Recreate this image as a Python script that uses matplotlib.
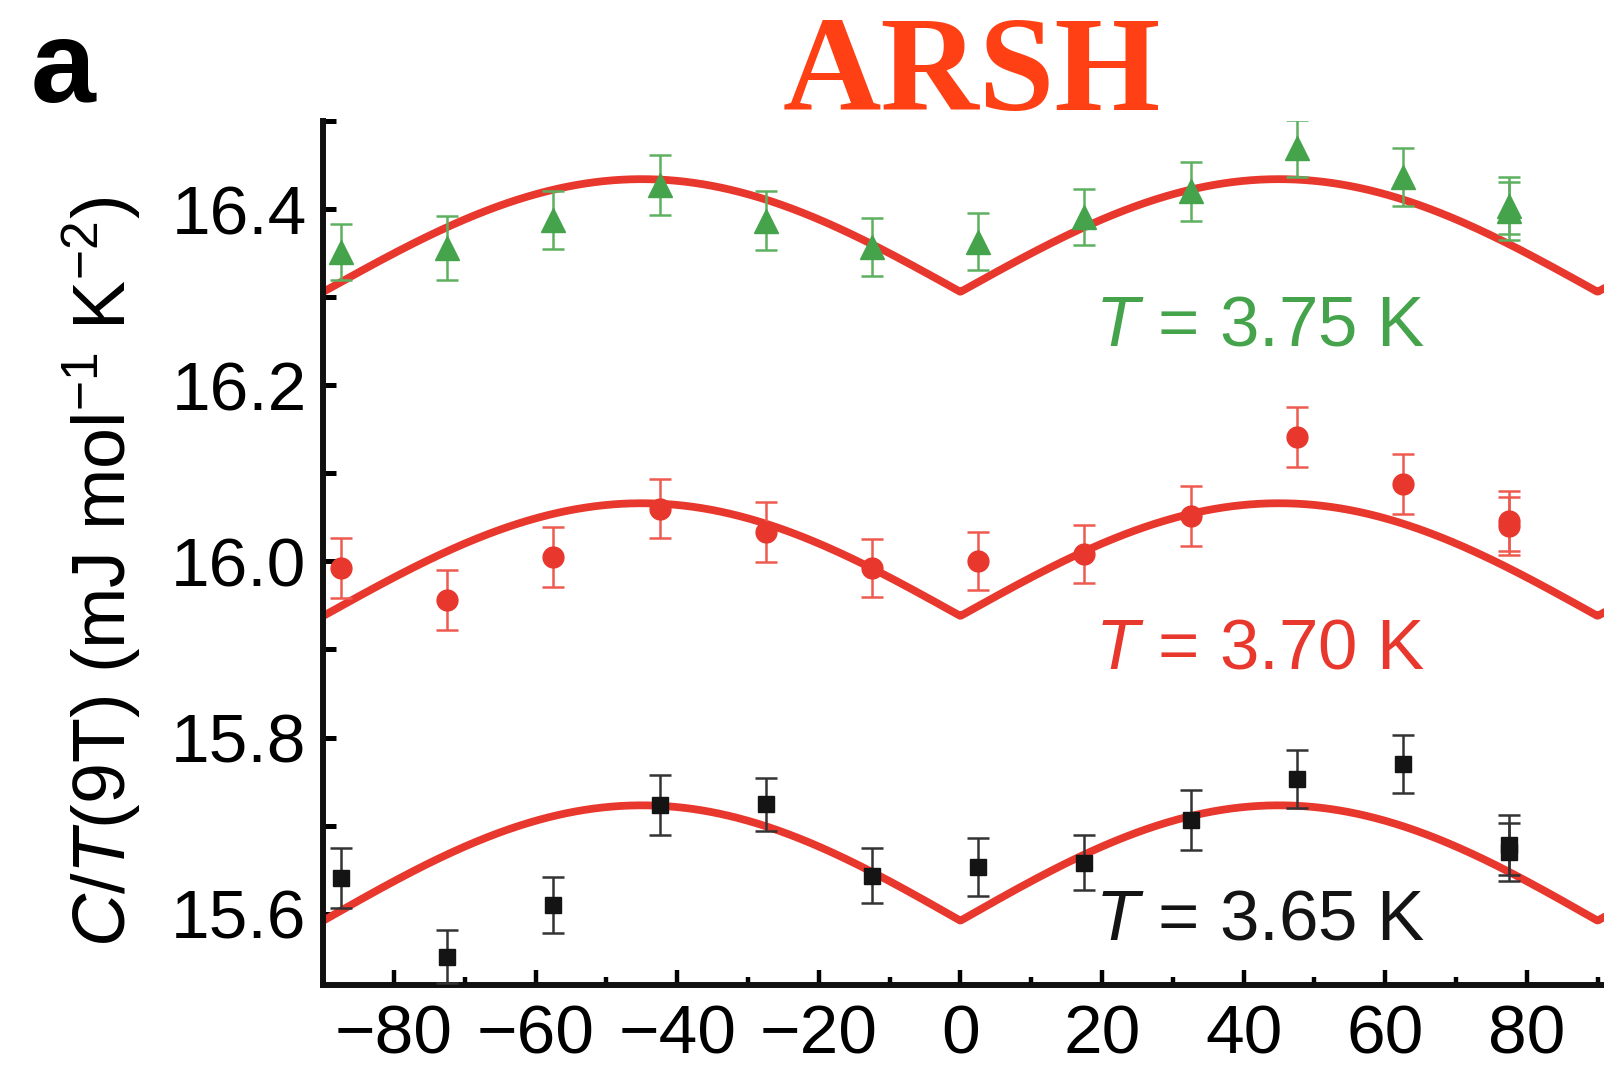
import matplotlib
matplotlib.use("Agg")
import matplotlib.pyplot as plt
import numpy as np
from matplotlib.ticker import MultipleLocator

# field angle (deg); the last angle was measured twice
angle = [-87.5, -72.5, -57.5, -42.5, -27.5, -12.5, 2.5, 17.5, 32.5, 47.5, 62.5, 77.5, 77.5]

# C/T at 9 T for three temperatures (mJ mol^-1 K^-2)
ct_375 = [16.351, 16.356, 16.388, 16.427, 16.387, 16.357, 16.363, 16.391, 16.420, 16.469, 16.436, 16.398, 16.404]
err_375 = [0.032, 0.036, 0.033, 0.034, 0.034, 0.033, 0.032, 0.032, 0.034, 0.032, 0.033, 0.033, 0.032]

ct_370 = [15.992, 15.956, 16.005, 16.060, 16.033, 15.992, 16.000, 16.008, 16.052, 16.141, 16.088, 16.040, 16.046]
err_370 = [0.034, 0.034, 0.034, 0.034, 0.034, 0.033, 0.033, 0.033, 0.034, 0.034, 0.034, 0.033, 0.034]

ct_365 = [15.640, 15.551, 15.610, 15.723, 15.724, 15.643, 15.653, 15.658, 15.706, 15.753, 15.770, 15.670, 15.678]
err_365 = [0.034, 0.030, 0.032, 0.034, 0.030, 0.031, 0.033, 0.031, 0.034, 0.033, 0.033, 0.033, 0.034]

temps = ["3.65", "3.70", "3.75"]
# d-wave fit: base + amp * |sin 2theta|
fit_base = [15.592, 15.938, 16.306]
fit_amp = [0.131, 0.128, 0.128]

RED = "#E8372D"
GREEN = "#45A34B"
BLACK = "#141414"

plt.rcParams["font.family"] = ["Liberation Sans", "DejaVu Sans"]
plt.rcParams["mathtext.fontset"] = "custom"
plt.rcParams["mathtext.rm"] = "Liberation Sans"
plt.rcParams["mathtext.it"] = "Liberation Sans:italic"

fig = plt.figure(figsize=(16.04, 10.71), dpi=100)
ax = fig.add_axes([0.2015, 0.0803, 0.7985, 0.8067])

theta = np.linspace(-90, 91, 1001)
for base, amp in zip(fit_base, fit_amp):
    ax.plot(theta, base + amp * np.abs(np.sin(np.radians(2 * theta))),
            color=RED, lw=5.6, zorder=2, solid_capstyle="round")

series = [
    (ct_375, err_375, "^", GREEN, "#5DB060", 17),
    (ct_370, err_370, "o", RED, "#EE5A50", 15),
    (ct_365, err_365, "s", BLACK, "#333333", 11),
]
for ys, es, mk, col, ecol, ms in series:
    ax.errorbar(angle, ys, yerr=es, fmt=mk, color=col, ms=ms, mec=col,
                ecolor=ecol, elinewidth=1.8, capsize=8, capthick=1.8, zorder=3)

label_y = [15.571, 15.878, 16.245]
label_col = [BLACK, RED, GREEN]
for t, yy, col in zip(temps, label_y, label_col):
    ax.text(19, yy, r"$T$ = " + t + " K", color=col, fontsize=51,
            ha="left", va="baseline")

ax.set_xlim(-90, 90.9)
ax.set_ylim(15.519, 16.5)
ax.xaxis.set_major_locator(MultipleLocator(20))
ax.xaxis.set_minor_locator(MultipleLocator(10))
ax.yaxis.set_major_locator(MultipleLocator(0.2))
ax.yaxis.set_minor_locator(MultipleLocator(0.1))
ax.yaxis.set_major_formatter(matplotlib.ticker.FormatStrFormatter("%.1f"))

for side in ["top", "right"]:
    ax.spines[side].set_visible(False)
for side in ["left", "bottom"]:
    ax.spines[side].set_linewidth(4.3)
    ax.spines[side].set_color("#111111")

ax.tick_params(axis="x", which="major", direction="in", length=11, width=3.2,
               labelsize=50, pad=13)
ax.tick_params(axis="x", which="minor", direction="in", length=6, width=3.2)
ax.tick_params(axis="y", which="both", direction="in", length=9, width=3.6,
               labelsize=50, pad=12)
ax.set_xticks([-80, -60, -40, -20, 0, 20, 40, 60, 80])

fig.text(102 / 1604, 1 - 572 / 1071,
         r"$C$/$T$(9T) (mJ mol$^{-1}$ K$^{-2}$)", rotation=90,
         fontsize=53, ha="center", va="center")

fig.text(31 / 1604, 1 - 102 / 1071, "a", fontsize=84, fontweight="bold",
         ha="left", va="baseline")
fig.text(783 / 1604, 1 - 110 / 1071, "ARSH", fontsize=98, fontweight="bold",
         family="Liberation Serif", color="#FF4014", ha="left", va="baseline")

fig.savefig("out.png", dpi=100)
